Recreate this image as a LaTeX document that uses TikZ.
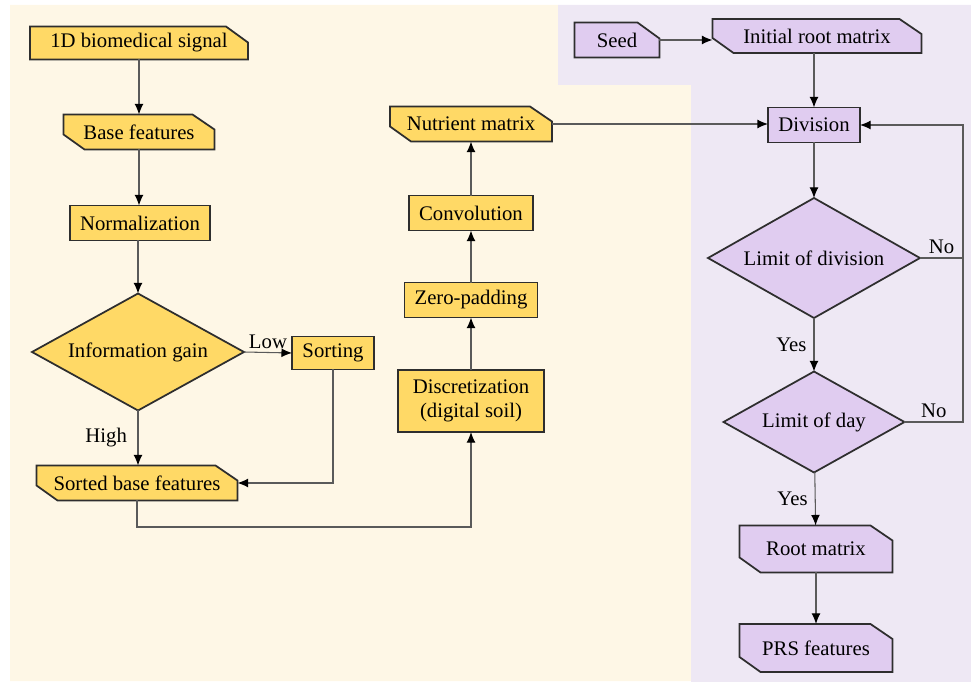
\documentclass[tikz,border=0pt]{standalone}
\usepackage{fontspec}
\setmainfont{LiberationSerif}[Extension=.ttf, UprightFont=*-Regular, BoldFont=*-Bold]
\usetikzlibrary{arrows.meta, shapes.geometric, backgrounds}

\definecolor{creambg}{HTML}{FEF7E6}
\definecolor{lilacbg}{HTML}{EEE8F4}
\definecolor{goldfill}{HTML}{FFD966}
\definecolor{lilacfill}{HTML}{E0CCF0}
\definecolor{edgegray}{HTML}{2E2E2E}
\definecolor{linkgray}{HTML}{5A5A5A}

% card outlines drawn behind the (borderless) nodes
\newcommand{\cardone}[2]{\filldraw[card, fill=#2] (#1.north west) -- ([xshift=-0.44cm]#1.north east) -- ([yshift=-0.32cm]#1.north east) -- (#1.south east) -- (#1.south west) -- cycle;}
\newcommand{\cardtwo}[2]{\filldraw[card, fill=#2] (#1.north west) -- ([xshift=-0.44cm]#1.north east) -- ([yshift=-0.3cm]#1.north east) -- (#1.south east) -- ([xshift=0.42cm]#1.south west) -- ([yshift=0.3cm]#1.south west) -- cycle;}

\tikzset{
  card/.style={draw=edgegray, line width=1pt},
  txt/.style={font=\rmfamily\fontsize{11.8}{14}\selectfont, inner sep=0pt, outer sep=0pt, align=center},
  slot/.style={txt},
  gbox/.style={txt, draw=edgegray, line width=1pt, fill=goldfill},
  pbox/.style={txt, draw=edgegray, line width=1pt, fill=lilacfill},
  gtest/.style={gbox, diamond, aspect=1.8},
  ptest/.style={pbox, diamond, aspect=1.8},
  link/.style={draw=linkgray, line width=0.6pt, -{Latex[length=6pt, width=5pt, color=black]}},
  plain/.style={draw=linkgray, line width=0.6pt},
  lbl/.style={font=\rmfamily\fontsize{11.8}{14}\selectfont, inner sep=2pt}
}

\begin{document}
\begin{tikzpicture}[x=0.02cm, y=-0.02cm]
    \useasboundingbox (0,0) rectangle (971,682);

    % two colored panels
    \begin{scope}[on background layer]
        \fill[creambg] (10,5) -- (558,5) -- (558,85) -- (691,85) -- (691,681) -- (10,681) -- cycle;
        \fill[lilacbg] (558,5) -- (971,5) -- (971,682) -- (691,682) -- (691,85) -- (558,85) -- cycle;
    \end{scope}

    % left column
    \node[slot, minimum width=4.36cm, minimum height=0.66cm] (sig) at (139,43) {1D biomedical signal};
    \node[slot, minimum width=3.02cm, minimum height=0.7cm] (base) at (139,132) {Base features};
    \node[gbox, minimum width=2.8cm, minimum height=0.7cm] (norm) at (140,223) {Normalization};
    \node[gtest, minimum width=4.24cm, minimum height=2.34cm] (gain) at (138,352) {Information gain};
    \node[gbox, minimum width=1.64cm, minimum height=0.66cm] (sort) at (333,353) {Sorting};
    \node[slot, minimum width=4.02cm, minimum height=0.7cm] (sorted) at (137,483) {Sorted base features};

    % middle column
    \node[gbox, minimum width=2.92cm, minimum height=1.24cm] (disc) at (471,401) {Discretization\\(digital soil)};
    \node[gbox, minimum width=2.66cm, minimum height=0.7cm] (pad) at (471,300) {Zero-padding};
    \node[gbox, minimum width=2.48cm, minimum height=0.7cm] (conv) at (471,213) {Convolution};
    \node[slot, minimum width=3.24cm, minimum height=0.7cm] (nutr) at (471,124) {Nutrient matrix};

    % right column
    \node[slot, minimum width=1.7cm, minimum height=0.7cm] (seed) at (617,40) {Seed};
    \node[slot, minimum width=4.18cm, minimum height=0.68cm] (init) at (817,36) {Initial root matrix};
    \node[pbox, minimum width=1.84cm, minimum height=0.7cm] (divn) at (814,125) {Division};
    \node[ptest, minimum width=4.24cm, minimum height=2.4cm] (limdiv) at (814,258) {Limit of division};
    \node[ptest, minimum width=3.62cm, minimum height=2.02cm] (limday) at (814,422) {Limit of day};
    \node[slot, minimum width=3.06cm, minimum height=0.94cm] (root) at (816,549) {Root matrix};
    \node[slot, minimum width=3.06cm, minimum height=0.96cm] (prs) at (816,648) {PRS features};

    \begin{scope}[on background layer]
        \cardone{sig}{goldfill}
        \cardtwo{base}{goldfill}
        \cardtwo{sorted}{goldfill}
        \cardtwo{nutr}{goldfill}
        \cardone{seed}{lilacfill}
        \cardtwo{init}{lilacfill}
        \cardtwo{root}{lilacfill}
        \cardtwo{prs}{lilacfill}
    \end{scope}

    \coordinate (under) at (137,527);
    \coordinate (loop) at (963,258);

    % connectors
    \draw[link] (sig) -- (base);
    \draw[link] (base) -- (base |- norm.north);
    \draw[link] (norm.south -| gain.north) -- (gain.north);
    \draw[link] (gain.east) -- node[lbl, above] {Low} (sort.west);
    \draw[link] (gain.south) -- node[lbl, left=4pt] {High} (sorted.north -| gain.south);
    \draw[link] (sort.south) |- (sorted.east);
    \draw[link] (sorted.south -| under) -- (under) -| (disc.south);
    \draw[link] (disc) -- (pad);
    \draw[link] (pad) -- (conv);
    \draw[link] (conv) -- (nutr);
    \draw[link] (nutr.east) -- (nutr.east -| divn.west);
    \draw[link] (seed.east) -- (seed.east -| init.west);
    \draw[link] (init.south -| divn.north) -- (divn.north);
    \draw[link] (divn) -- (limdiv);
    \draw[link] (limdiv) -- node[lbl, left=2pt] {Yes} (limday);
    \draw[link] (limdiv.east) -- node[lbl, above] {No} (loop) |- (divn.east);
    \draw[plain] (limday.east) -- node[lbl, above] {No} (limday.east -| loop) -- (loop);
    \draw[link] (limday) -- node[lbl, left=2pt] {Yes} (root);
    \draw[link] (root) -- (prs);
\end{tikzpicture}
\end{document}
